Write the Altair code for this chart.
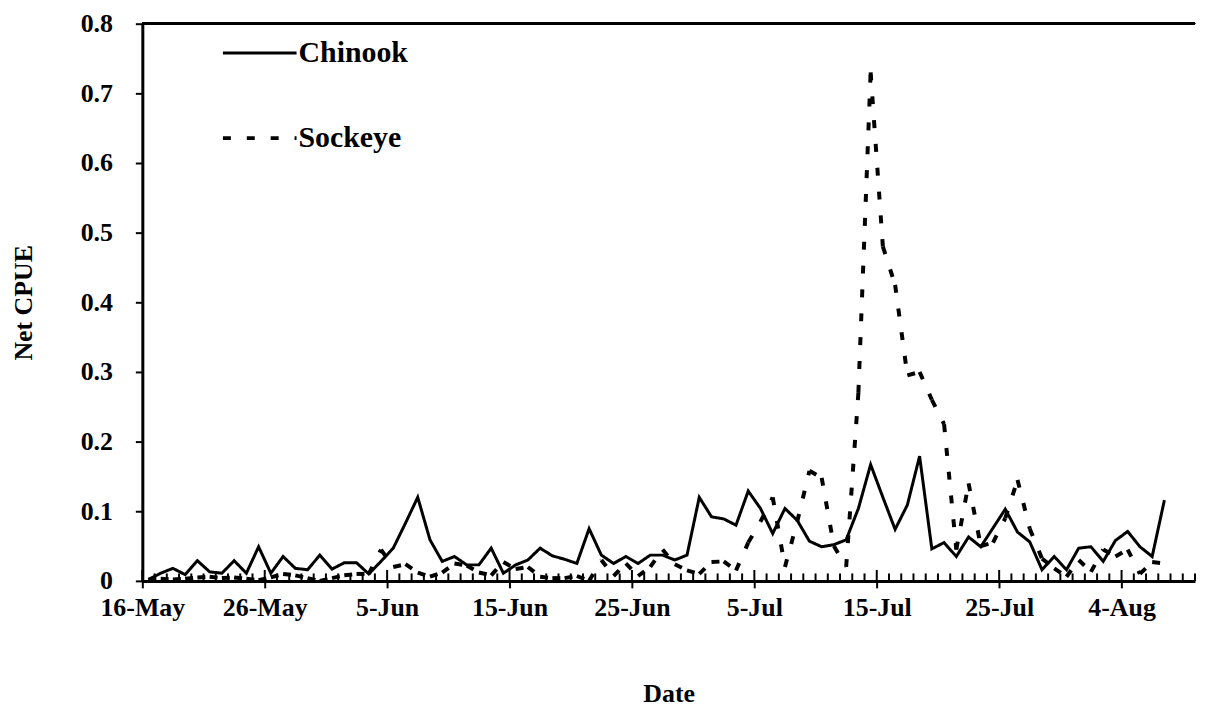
import altair as alt
import pandas as pd

# ---- data (daily values, 16-May onwards) ----
chinook = [0.002, 0.011, 0.018, 0.009, 0.029, 0.013, 0.011, 0.029, 0.011, 0.049,
           0.011, 0.035, 0.018, 0.016, 0.037, 0.017, 0.026, 0.026, 0.010, 0.028,
           0.047, 0.083, 0.120, 0.059, 0.028, 0.035, 0.023, 0.023, 0.047, 0.011,
           0.023, 0.030, 0.047, 0.036, 0.031, 0.025, 0.075, 0.037, 0.025, 0.035,
           0.025, 0.037, 0.037, 0.030, 0.037, 0.120, 0.092, 0.089, 0.080, 0.129,
           0.104, 0.068, 0.104, 0.087, 0.057, 0.049, 0.052, 0.059, 0.104, 0.167,
           0.120, 0.074, 0.109, 0.179, 0.046, 0.055, 0.035, 0.063, 0.049, 0.076,
           0.103, 0.070, 0.056, 0.016, 0.035, 0.016, 0.047, 0.049, 0.028, 0.058,
           0.071, 0.049, 0.035, 0.116]

sockeye = [0.002, 0.003, 0.002, 0.003, 0.005, 0.006, 0.004, 0.005, 0.003, 0.001,
           0.005, 0.010, 0.008, 0.004, 0.000, 0.004, 0.008, 0.010, 0.010, 0.045,
           0.020, 0.024, 0.012, 0.006, 0.012, 0.025, 0.022, 0.012, 0.008, 0.027,
           0.017, 0.020, 0.006, 0.004, 0.004, 0.007, 0.000, 0.030, 0.007, 0.025,
           0.007, 0.020, 0.045, 0.024, 0.015, 0.010, 0.027, 0.028, 0.015, 0.055,
           0.085, 0.120, 0.020, 0.085, 0.158, 0.148, 0.050, 0.020, 0.270, 0.730,
           0.480, 0.425, 0.295, 0.300, 0.260, 0.225, 0.045, 0.140, 0.050, 0.055,
           0.090, 0.145, 0.075, 0.032, 0.018, 0.006, 0.030, 0.013, 0.045, 0.035,
           0.045, 0.010, 0.027, 0.025]

series_names = ["Chinook", "Sockeye"]
tick_labels = ["16-May", "26-May", "5-Jun", "15-Jun", "25-Jun",
               "5-Jul", "15-Jul", "25-Jul", "4-Aug"]
y_ticks = [0, 0.1, 0.2, 0.3, 0.4, 0.5, 0.6, 0.7, 0.8]
n_days = 86  # categories on the axis

FONT = "Liberation Serif"

# ---- tables ----
df_ch = pd.DataFrame({"day": list(range(len(chinook))), "cpue": chinook,
                      "series": series_names[0]})
rows = []
for k in range(len(sockeye) - 1):
    for j in (k, k + 1):
        rows.append({"day": j, "cpue": sockeye[j], "series": series_names[1], "seg": k})
df_so = pd.DataFrame(rows)

major_vals = [-0.5 + 10 * k for k in range(len(tick_labels))]
minor_len, major_len = 0.0107, 0.0157
df_ticks = pd.DataFrame({
    "day": [-0.5 + j for j in range(n_days + 1)],
    "cpue": [0.0] * (n_days + 1),
    "cpue2": [major_len if j % 10 == 0 else minor_len for j in range(n_days + 1)],
})

label_expr = "[" + ",".join("'%s'" % t for t in tick_labels) + "][round((datum.value + 0.5) / 10)]"

x_enc = alt.X("day:Q",
              scale=alt.Scale(domain=[-0.5, n_days - 0.5], nice=False, zero=False),
              axis=alt.Axis(values=major_vals, labelExpr=label_expr, title="Date",
                            grid=False, tickSize=7, tickWidth=2, domainWidth=3,
                            labelPadding=7, titlePadding=60, labelFlush=False,
                            labelOverlap=False))
y_enc = alt.Y("cpue:Q",
              scale=alt.Scale(domain=[0, 0.8], nice=False),
              axis=alt.Axis(values=y_ticks, format="~g", title="Net CPUE", grid=False,
                            tickSize=7, tickWidth=2, domainWidth=3,
                            labelPadding=23, titlePadding=44))

legend = alt.Legend(title=None, orient="none", legendX=79, legendY=-9,
                    direction="vertical", symbolType="stroke", symbolSize=5476,
                    symbolStrokeColor="black", labelFont=FONT, labelFontSize=30,
                    labelFontWeight="bold", labelColor="black", rowPadding=31,
                    labelOffset=0, padding=0)

dash_enc = alt.StrokeDash("series:N",
                          scale=alt.Scale(domain=series_names, range=[[1, 0], [8, 16]]),
                          legend=legend)
width_enc = alt.StrokeWidth("series:N",
                            scale=alt.Scale(domain=series_names, range=[3, 4]),
                            legend=legend)

chinook_line = alt.Chart(df_ch).mark_line(color="black", strokeJoin="miter").encode(
    x=x_enc, y=y_enc, strokeDash=dash_enc, strokeWidth=width_enc)

sockeye_line = alt.Chart(df_so).mark_line(color="black", strokeCap="butt").encode(
    x="day:Q", y="cpue:Q", detail="seg:N", strokeDash=dash_enc, strokeWidth=width_enc)

inner_ticks = alt.Chart(df_ticks).mark_rule(color="black", strokeWidth=2).encode(
    x="day:Q", y="cpue:Q", y2="cpue2")

top_line = alt.Chart(df_ch).mark_rule(color="black", strokeWidth=2).encode(
    y=alt.datum(0.8))

chart = alt.layer(inner_ticks, sockeye_line, chinook_line, top_line).properties(
    width=1058, height=560,
    autosize=alt.AutoSizeParams(type="none"),
    padding={"left": 135, "top": 14, "right": 2, "bottom": 132},
).configure_view(stroke=None).configure_axis(
    domainColor="black", tickColor="black", labelColor="black", titleColor="black",
    labelFont=FONT, titleFont=FONT, labelFontSize=26, titleFontSize=26,
    labelFontWeight="bold", titleFontWeight="bold",
)

chart.save("out.html", embed_options={"renderer": "svg", "actions": False})
